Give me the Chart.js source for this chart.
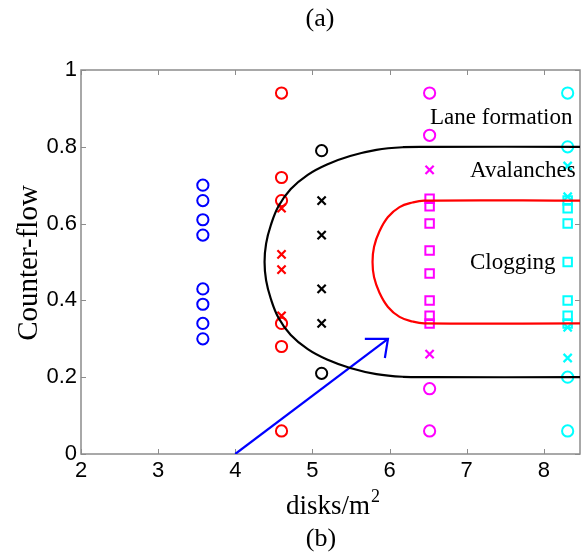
<!DOCTYPE html>
<html>
<head>
<meta charset="utf-8">
<script src="https://cdn.jsdelivr.net/npm/chart.js@4"></script>
<style>
  html, body { margin: 0; padding: 0; background: #fff; }
  #wrap { width: 588px; height: 556px; position: relative; }
</style>
</head>
<body>
<div id="wrap"><canvas id="phaseCanvas" width="588" height="556"></canvas></div>
<script>
// density of each measured column (disks/m^2)
const blueX = 3.58;
const redX = 4.60;
const blackX = 5.12;
const magentaX = 6.52;
const cyanX = 8.31;

// counter-flow values at each column, split by outcome marker
const blueCircles = [0.70, 0.66, 0.61, 0.57, 0.43, 0.39, 0.34, 0.30];
const redCircles = [0.94, 0.72, 0.66, 0.34, 0.28, 0.06];
const redCrosses = [0.64, 0.52, 0.48, 0.36];
const blackCircles = [0.79, 0.21];
const blackCrosses = [0.66, 0.57, 0.43, 0.34];
const magentaCircles = [0.94, 0.83, 0.17, 0.06];
const magentaCrosses = [0.74, 0.26];
const magentaSquares = [0.665, 0.645, 0.60, 0.53, 0.47, 0.40, 0.36, 0.34];
const cyanCircles = [0.94, 0.80, 0.20, 0.06];
const cyanCrosses = [0.75, 0.67, 0.33, 0.25];
const cyanSquares = [0.66, 0.64, 0.60, 0.50, 0.40, 0.36, 0.34];

// phase boundaries, traced from the upper right round to the lower right
const laneEdgeX = [8.47, 6.52, 6.18, 5.83, 5.49, 5.19, 4.94, 4.72, 4.56, 4.46, 4.40, 4.38, 4.40, 4.46, 4.56, 4.72, 4.94, 5.19, 5.49, 5.83, 6.18, 6.52, 8.47];
const laneEdgeY = [0.80, 0.80, 0.799, 0.792, 0.776, 0.754, 0.727, 0.69, 0.645, 0.595, 0.548, 0.50, 0.452, 0.405, 0.355, 0.31, 0.273, 0.246, 0.224, 0.208, 0.201, 0.20, 0.20];
const clogEdgeX = [8.47, 6.45, 6.30, 6.13, 5.98, 5.87, 5.80, 5.78, 5.80, 5.87, 5.98, 6.13, 6.30, 6.45, 8.47];
const clogEdgeY = [0.66, 0.66, 0.655, 0.643, 0.617, 0.58, 0.54, 0.50, 0.46, 0.42, 0.383, 0.357, 0.345, 0.34, 0.34];

// arrow shaft and open head
const arrowX = [4.0, 5.98];
const arrowY = [0.0, 0.30];
const arrowHeadX = [5.68, 5.98, 5.94];
const arrowHeadY = [0.30, 0.30, 0.25];

const xTicks = [2, 3, 4, 5, 6, 7, 8];
const yTicks = [0, 0.2, 0.4, 0.6, 0.8, 1];

const regionLabels = [
  { text: 'Lane formation', x: 430, y: 124 },
  { text: 'Avalanches', x: 470, y: 177 },
  { text: 'Clogging', x: 470, y: 269 }
];

const column = (x, ys) => ys.map(y => ({ x, y }));
const zipXY = (xs, ys) => xs.map((x, i) => ({ x, y: ys[i] }));

function markers(data, color, style) {
  const base = {
    type: 'scatter',
    data,
    showLine: false,
    pointStyle: style,
    pointBorderColor: color,
    pointBackgroundColor: 'rgba(0,0,0,0)',
    pointHoverRadius: 0
  };
  if (style === 'circle') return { ...base, pointRadius: 5.6, pointBorderWidth: 2 };
  if (style === 'rect') return { ...base, pointRadius: 6, pointBorderWidth: 2 };
  return { ...base, pointRadius: 5.8, pointBorderWidth: 2.2 };
}

function curve(data, color, width, tension) {
  return {
    type: 'line',
    data,
    borderColor: color,
    borderWidth: width,
    pointRadius: 0,
    fill: false,
    tension
  };
}

const frameColor = '#8c8c8c';

const framePlugin = {
  id: 'frame',
  beforeDatasetsDraw(chart) {
    const { ctx, chartArea: a, scales } = chart;
    ctx.save();
    ctx.strokeStyle = frameColor;
    ctx.lineWidth = 1.5;
    ctx.strokeRect(a.left, a.top, a.right - a.left, a.bottom - a.top);
    ctx.lineWidth = 1;
    ctx.beginPath();
    xTicks.forEach(v => {
      const px = Math.round(scales.x.getPixelForValue(v)) + 0.5;
      ctx.moveTo(px, a.bottom); ctx.lineTo(px, a.bottom - 5);
      ctx.moveTo(px, a.top); ctx.lineTo(px, a.top + 5);
    });
    yTicks.forEach(v => {
      const py = Math.round(scales.y.getPixelForValue(v)) + 0.5;
      ctx.moveTo(a.left, py); ctx.lineTo(a.left + 5, py);
      ctx.moveTo(a.right, py); ctx.lineTo(a.right - 5, py);
    });
    ctx.stroke();
    ctx.restore();
  },
  afterDraw(chart) {
    const { ctx } = chart;
    ctx.save();
    ctx.fillStyle = '#000';
    ctx.textAlign = 'center';
    ctx.textBaseline = 'middle';
    ctx.font = '26px "Liberation Serif"';
    ctx.fillText('(a)', 320, 19);
    ctx.fillText('(b)', 321, 539);

    // x axis title with superscript
    ctx.textAlign = 'left';
    ctx.textBaseline = 'alphabetic';
    ctx.font = '27px "Liberation Serif"';
    ctx.fillText('disks/m', 286, 514);
    const w = ctx.measureText('disks/m').width;
    ctx.font = '18px "Liberation Serif"';
    ctx.fillText('2', 286 + w + 1, 502);

    // y axis title
    ctx.save();
    ctx.translate(37, 263);
    ctx.rotate(-Math.PI / 2);
    ctx.textAlign = 'center';
    ctx.font = '29px "Liberation Serif"';
    ctx.fillText('Counter-flow', 0, 0);
    ctx.restore();

    ctx.font = '23px "Liberation Serif"';
    regionLabels.forEach(l => ctx.fillText(l.text, l.x, l.y));
    ctx.restore();
  }
};

const tickFont = { family: '"Liberation Sans", Arial, sans-serif', size: 22 };

new Chart(document.getElementById('phaseCanvas').getContext('2d'), {
  data: {
    datasets: [
      curve(zipXY(laneEdgeX, laneEdgeY), '#000000', 2.2, 0.4),
      curve(zipXY(clogEdgeX, clogEdgeY), '#ff0000', 2.2, 0.4),
      curve(zipXY(arrowX, arrowY), '#0000ff', 2.2, 0),
      curve(zipXY(arrowHeadX, arrowHeadY), '#0000ff', 2.2, 0),
      markers(column(blueX, blueCircles), '#0000ff', 'circle'),
      markers(column(redX, redCircles), '#ff0000', 'circle'),
      markers(column(redX, redCrosses), '#ff0000', 'crossRot'),
      markers(column(blackX, blackCircles), '#000000', 'circle'),
      markers(column(blackX, blackCrosses), '#000000', 'crossRot'),
      markers(column(magentaX, magentaCircles), '#ff00ff', 'circle'),
      markers(column(magentaX, magentaCrosses), '#ff00ff', 'crossRot'),
      markers(column(magentaX, magentaSquares), '#ff00ff', 'rect'),
      markers(column(cyanX, cyanCircles), '#00ffff', 'circle'),
      markers(column(cyanX, cyanCrosses), '#00ffff', 'crossRot'),
      markers(column(cyanX, cyanSquares), '#00ffff', 'rect')
    ]
  },
  options: {
    responsive: false,
    animation: false,
    events: [],
    layout: { padding: { top: 70, right: 2, left: 0, bottom: 0 } },
    plugins: { legend: { display: false }, tooltip: { enabled: false } },
    scales: {
      x: {
        type: 'linear',
        min: 2,
        max: 8.47,
        afterFit: s => { s.height = 102; },
        afterBuildTicks: s => { s.ticks = xTicks.map(v => ({ value: v })); },
        grid: { display: false, drawTicks: false, tickLength: 0 },
        border: { display: false },
        ticks: { color: '#000', font: tickFont, padding: 4, maxRotation: 0, autoSkip: false, callback: v => String(v) }
      },
      y: {
        type: 'linear',
        min: 0,
        max: 1,
        afterFit: s => { s.width = 81; },
        afterBuildTicks: s => { s.ticks = yTicks.map(v => ({ value: v })); },
        grid: { display: false, drawTicks: false, tickLength: 0 },
        border: { display: false },
        ticks: { color: '#000', font: tickFont, padding: 4, autoSkip: false, callback: v => String(v) }
      }
    }
  },
  plugins: [framePlugin]
});
</script>
</body>
</html>
